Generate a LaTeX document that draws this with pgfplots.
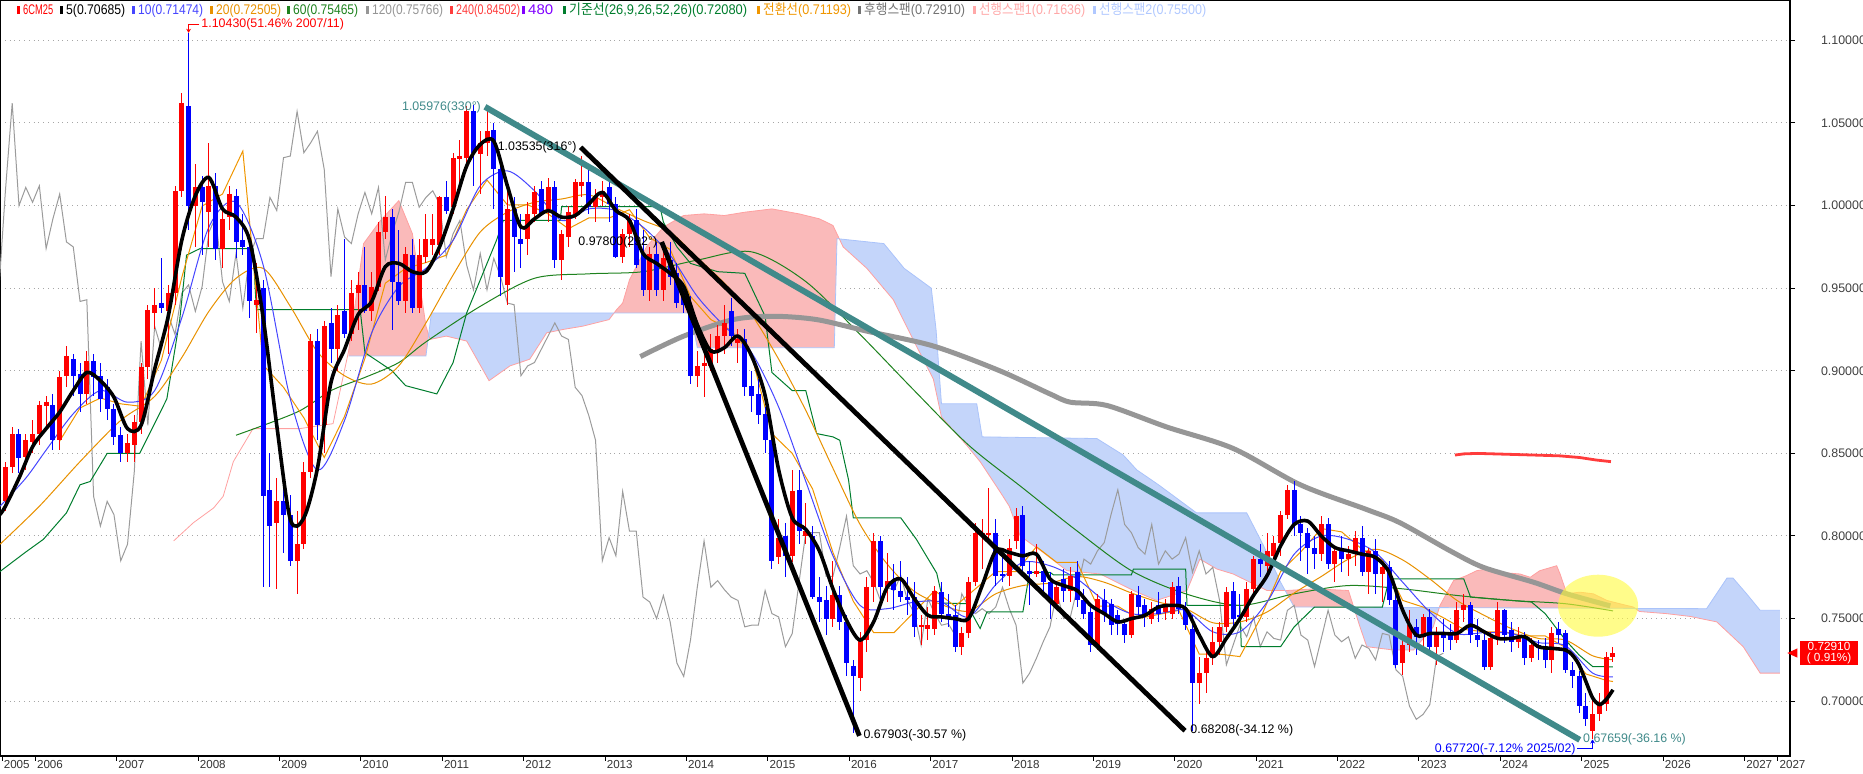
\documentclass[border=0pt]{standalone}
\usepackage{pgfplots}
\pgfplotsset{compat=1.18}
\usepackage{pgfplotstable}
\usepgfplotslibrary{fillbetween}
\usetikzlibrary{arrows.meta}
\usepackage{fontspec}
\setmainfont{Liberation Sans}
\newfontfamily\kr{Noto Sans CJK KR}

\definecolor{cup}{RGB}{255,0,0}
\definecolor{cdn}{RGB}{0,0,255}
\definecolor{trend}{RGB}{64,138,138}
\definecolor{maten}{RGB}{70,70,255}
\definecolor{matwenty}{RGB}{232,145,0}
\definecolor{masixty}{RGB}{30,130,30}
\definecolor{mahund}{RGB}{150,150,150}
\definecolor{matwoforty}{RGB}{255,60,60}
\definecolor{kijun}{RGB}{0,125,45}
\definecolor{tenkan}{RGB}{240,150,0}
\definecolor{lagspan}{RGB}{155,155,155}
\definecolor{spana}{RGB}{255,160,160}
\definecolor{spanb}{RGB}{170,195,250}
\definecolor{cloudp}{RGB}{250,186,186}
\definecolor{cloudb}{RGB}{196,213,250}
\definecolor{purp}{RGB}{128,0,255}
\definecolor{lblue}{RGB}{176,200,255}
\definecolor{lpink}{RGB}{255,168,168}

% monthly candles, m = months since Jan 2005
\pgfplotstableread{
m o h l c
7 0.821 0.845 0.815 0.842
8 0.842 0.866 0.838 0.862
9 0.862 0.865 0.838 0.847
10 0.848 0.862 0.840 0.858
11 0.857 0.870 0.850 0.862
12 0.862 0.882 0.855 0.879
13 0.879 0.885 0.865 0.881
14 0.879 0.886 0.852 0.858
15 0.858 0.900 0.852 0.896
16 0.897 0.915 0.890 0.909
17 0.907 0.910 0.885 0.897
18 0.898 0.905 0.875 0.886
19 0.886 0.912 0.880 0.906
20 0.906 0.910 0.885 0.896
21 0.897 0.905 0.875 0.883
22 0.890 0.895 0.870 0.877
23 0.877 0.880 0.855 0.860
24 0.861 0.866 0.845 0.850
25 0.850 0.862 0.845 0.856
26 0.855 0.873 0.845 0.869
27 0.869 0.905 0.862 0.902
28 0.902 0.940 0.895 0.937
29 0.935 0.950 0.925 0.940
30 0.941 0.968 0.935 0.938
31 0.936 0.952 0.910 0.947
32 0.947 1.012 0.940 1.009
33 1.009 1.068 1.005 1.062
34 1.060 1.1043 0.985 1.000
35 1.000 1.025 0.975 1.011
36 1.011 1.018 0.970 1.002
37 0.996 1.038 0.975 1.012
38 1.012 1.020 0.967 0.974
39 0.974 0.998 0.962 0.992
40 0.993 1.012 0.985 1.007
41 1.006 1.010 0.968 0.978
42 0.979 0.995 0.970 0.975
43 0.975 0.978 0.932 0.942
44 0.940 0.965 0.923 0.943
45 0.950 0.955 0.769 0.824
46 0.828 0.850 0.769 0.806
47 0.808 0.835 0.768 0.821
48 0.821 0.840 0.790 0.813
49 0.813 0.825 0.782 0.785
50 0.785 0.815 0.765 0.795
51 0.795 0.845 0.792 0.839
52 0.839 0.922 0.835 0.918
53 0.918 0.925 0.858 0.867
54 0.867 0.930 0.850 0.927
55 0.929 0.938 0.905 0.913
56 0.913 0.940 0.900 0.934
57 0.936 0.980 0.920 0.922
58 0.922 0.955 0.918 0.947
59 0.947 0.960 0.925 0.952
60 0.952 0.975 0.935 0.936
61 0.936 0.960 0.930 0.951
62 0.951 0.990 0.948 0.984
63 0.984 1.006 0.980 0.993
64 0.993 0.998 0.925 0.954
65 0.954 0.985 0.940 0.942
66 0.942 0.975 0.935 0.971
67 0.970 0.980 0.935 0.938
68 0.938 0.980 0.935 0.970
69 0.969 0.995 0.965 0.980
70 0.976 0.995 0.970 0.980
71 0.976 1.006 0.970 1.005
72 1.005 1.015 0.995 0.997
73 0.999 1.032 0.995 1.029
74 1.028 1.040 1.012 1.030
75 1.029 1.060 1.022 1.057
76 1.057 1.061 1.012 1.032
77 1.031 1.045 1.007 1.038
78 1.038 1.058 1.030 1.045
79 1.046 1.050 0.998 1.022
80 1.022 1.028 0.945 0.957
81 0.952 1.010 0.940 0.998
82 0.998 1.005 0.960 0.981
83 0.980 0.995 0.962 0.977
84 0.980 1.002 0.970 0.995
85 0.995 1.012 0.990 1.008
86 1.010 1.015 0.995 0.995
87 0.998 1.017 0.990 1.011
88 1.011 1.015 0.962 0.967
89 0.967 0.985 0.955 0.983
90 0.981 1.000 0.975 0.996
91 0.995 1.016 0.992 1.014
92 1.012 1.030 1.005 1.014
93 1.014 1.025 0.995 0.999
94 0.999 1.010 0.990 1.005
95 1.005 1.015 1.000 1.009
96 1.011 1.019 0.990 1.001
97 1.001 1.005 0.968 0.969
98 0.969 0.986 0.965 0.983
99 0.983 0.995 0.975 0.991
100 0.991 0.998 0.962 0.964
101 0.971 0.985 0.945 0.949
102 0.949 0.975 0.942 0.971
103 0.971 0.978 0.945 0.949
104 0.949 0.975 0.942 0.968
105 0.967 0.978 0.952 0.957
106 0.959 0.965 0.938 0.941
107 0.949 0.952 0.935 0.940
108 0.935 0.945 0.892 0.897
109 0.897 0.912 0.890 0.903
110 0.903 0.915 0.884 0.905
111 0.903 0.922 0.900 0.913
112 0.912 0.928 0.905 0.921
113 0.921 0.940 0.910 0.929
114 0.936 0.944 0.915 0.921
115 0.917 0.925 0.905 0.919
116 0.919 0.925 0.885 0.890
117 0.891 0.900 0.875 0.885
118 0.886 0.895 0.868 0.873
119 0.874 0.878 0.850 0.858
120 0.858 0.862 0.780 0.785
121 0.787 0.810 0.783 0.799
122 0.800 0.808 0.775 0.788
123 0.788 0.840 0.784 0.827
124 0.828 0.840 0.795 0.803
125 0.800 0.820 0.795 0.803
126 0.800 0.806 0.762 0.763
127 0.763 0.775 0.748 0.760
128 0.761 0.770 0.740 0.750
129 0.750 0.785 0.745 0.764
130 0.764 0.770 0.743 0.748
131 0.748 0.752 0.715 0.723
132 0.7215 0.725 0.681 0.715
133 0.714 0.742 0.706 0.737
134 0.737 0.775 0.730 0.769
135 0.769 0.802 0.760 0.797
136 0.797 0.800 0.757 0.769
137 0.769 0.790 0.760 0.773
138 0.773 0.783 0.755 0.7675
139 0.767 0.785 0.760 0.763
140 0.763 0.775 0.752 0.761
141 0.763 0.772 0.739 0.745
142 0.745 0.752 0.734 0.746
143 0.744 0.757 0.737 0.746
144 0.744 0.770 0.740 0.767
145 0.766 0.772 0.748 0.753
146 0.753 0.765 0.745 0.751
147 0.752 0.758 0.730 0.733
148 0.733 0.745 0.728 0.741
149 0.741 0.775 0.738 0.772
150 0.772 0.808 0.770 0.802
151 0.801 0.810 0.780 0.802
152 0.801 0.829 0.795 0.802
153 0.802 0.810 0.770 0.7755
154 0.777 0.790 0.772 0.7755
155 0.7755 0.798 0.770 0.793
156 0.797 0.817 0.792 0.812
157 0.813 0.818 0.775 0.782
158 0.779 0.785 0.758 0.777
159 0.777 0.795 0.775 0.779
160 0.779 0.785 0.765 0.772
161 0.772 0.778 0.750 0.761
162 0.759 0.773 0.755 0.769
163 0.774 0.780 0.760 0.767
164 0.767 0.781 0.760 0.776
165 0.778 0.785 0.757 0.761
166 0.761 0.768 0.750 0.753
167 0.754 0.757 0.730 0.734
168 0.734 0.765 0.731 0.762
169 0.761 0.768 0.748 0.753
170 0.759 0.762 0.740 0.746
171 0.752 0.755 0.740 0.747
172 0.747 0.750 0.735 0.740
173 0.740 0.767 0.738 0.765
174 0.764 0.770 0.752 0.757
175 0.758 0.762 0.745 0.753
176 0.750 0.760 0.747 0.756
177 0.758 0.766 0.748 0.753
178 0.754 0.762 0.749 0.757
179 0.753 0.772 0.750 0.769
180 0.770 0.775 0.753 0.756
181 0.756 0.760 0.743 0.746
182 0.744 0.752 0.682 0.711
183 0.711 0.727 0.698 0.717
184 0.717 0.732 0.705 0.726
185 0.726 0.745 0.722 0.736
186 0.736 0.748 0.728 0.745
187 0.745 0.769 0.742 0.766
188 0.767 0.772 0.745 0.750
189 0.752 0.765 0.748 0.751
190 0.751 0.772 0.748 0.768
191 0.768 0.788 0.765 0.786
192 0.786 0.795 0.775 0.783
193 0.782 0.802 0.776 0.791
194 0.788 0.800 0.782 0.796
195 0.796 0.815 0.788 0.813
196 0.813 0.831 0.810 0.828
197 0.828 0.833 0.800 0.807
198 0.807 0.812 0.785 0.802
199 0.802 0.805 0.777 0.793
200 0.793 0.800 0.780 0.789
201 0.789 0.812 0.785 0.807
202 0.807 0.811 0.780 0.783
203 0.783 0.793 0.772 0.791
204 0.791 0.800 0.778 0.786
205 0.786 0.794 0.776 0.789
206 0.790 0.803 0.782 0.799
207 0.799 0.806 0.776 0.778
208 0.778 0.793 0.765 0.791
209 0.791 0.798 0.765 0.777
210 0.777 0.785 0.760 0.781
211 0.781 0.785 0.758 0.761
212 0.761 0.765 0.720 0.722
213 0.723 0.740 0.716 0.734
214 0.734 0.755 0.730 0.746
215 0.745 0.750 0.728 0.739
216 0.739 0.753 0.733 0.751
217 0.751 0.756 0.731 0.733
218 0.733 0.745 0.722 0.742
219 0.741 0.750 0.730 0.738
220 0.741 0.747 0.731 0.737
221 0.737 0.760 0.735 0.755
222 0.755 0.765 0.748 0.758
223 0.758 0.760 0.735 0.740
224 0.740 0.750 0.733 0.737
225 0.737 0.742 0.719 0.721
226 0.721 0.742 0.719 0.738
227 0.738 0.760 0.734 0.755
228 0.755 0.756 0.735 0.740
229 0.743 0.748 0.730 0.736
230 0.736 0.745 0.732 0.739
231 0.739 0.742 0.722 0.726
232 0.726 0.738 0.724 0.734
233 0.734 0.737 0.725 0.732
234 0.732 0.738 0.720 0.725
235 0.725 0.745 0.717 0.741
236 0.744 0.748 0.735 0.740
237 0.741 0.743 0.717 0.719
238 0.719 0.724 0.708 0.715
239 0.715 0.718 0.693 0.697
240 0.697 0.705 0.685 0.689
241 0.682 0.703 0.6772 0.692
242 0.692 0.705 0.688 0.698
243 0.698 0.730 0.694 0.727
244 0.727 0.733 0.724 0.7291
}\candles

% legend entry: x position (px of 1790), colour, text width (pt), text
\newcommand{\lgitem}[4]{\node[anchor=base west, inner sep=0pt, text=#2, font=\fontsize{7}{8}\selectfont] at (axis description cs:#1/1790,0.9812) {\rule{1.1pt}{3.9pt}\hspace{1.8pt}\resizebox{#3pt}{\height}{#4}};}

\begin{document}
\begin{tikzpicture}[font=\fontsize{6.2}{7}\selectfont]
\begin{axis}[
  at={(0,0)}, anchor=south west,
  scale only axis, width=895pt, height=378pt,
  xmin=6.2, xmax=270.1, ymin=0.66683, ymax=1.12446,
  set layers, clip mode=individual,
  axis line style={line width=0.6pt},
  xtick={6.5,11.4,23.4,35.4,47.4,59.4,71.4,83.4,95.4,107.4,119.4,131.4,143.4,155.4,167.4,179.4,191.4,203.4,215.4,227.4,239.4,251.4,263.4,268.3},
  xticklabels={2005,2006,2007,2008,2009,2010,2011,2012,2013,2014,2015,2016,2017,2018,2019,2020,2021,2022,2023,2024,2025,2026,2027,2027},
  xtick pos=left, ytick pos=right, yticklabel pos=right,
  tick align=outside, major tick length=2.5pt,
  tick style={black, line width=0.5pt},
  tick label style={font=\fontsize{6.2}{7}\selectfont},
  xticklabel style={anchor=north west, xshift=0.2pt, yshift=1.2pt, inner sep=0.5pt, text=black!80, font=\fontsize{5.8}{7}\selectfont},
  ytick={0.70,0.75,0.80,0.85,0.90,0.95,1.00,1.05,1.10},
  yticklabel={\pgfmathprintnumber[fixed,fixed zerofill,precision=5]{\tick}},
  yticklabel style={anchor=west, xshift=9.5pt, text=black!75},
  /pgf/number format/assume math mode=true,
  ymajorgrids, grid style={black!35, dotted, line width=0.5pt},
]

% ichimoku cloud
\addplot[spana, line width=0.4pt] coordinates {(31.8,0.797) (34.7,0.808) (37.7,0.817) (39.1,0.824) (40.6,0.845) (43.5,0.865) (50.4,0.865) (55.3,0.868) (57.6,0.912)};
\addplot[name path=sa, spana, line width=0.4pt] coordinates {
(57.6,0.912) (59.8,0.977) (62.3,0.991) (65,1.003) (67,0.983) (69,0.927) (69.6,0.919) (72,0.921) (75,0.918) (78.3,0.894) (81.4,0.903) (84.3,0.907) (86.8,0.923) (89.2,0.925) (92.1,0.927) (96,0.931) (97.1,0.937) (98,0.941) (99,0.955) (101.5,0.975) (104,0.987) (107,0.994) (110,0.995) (113,0.994) (116,0.996) (120,0.998) (124,0.995) (127,0.992) (129,0.988) (130.5,0.975) (134,0.962) (137.9,0.943) (141.3,0.915) (143.8,0.895) (145,0.872) (148.7,0.855) (150.7,0.845) (153.6,0.827) (155,0.818) (156.6,0.800) (160,0.790) (163.5,0.779) (168.4,0.777) (173.3,0.767) (176.7,0.761) (181.2,0.767) (183.1,0.786) (185.6,0.780) (188,0.777) (193,0.767) (195.9,0.767) (200,0.768) (205,0.767) (206.7,0.745) (207.7,0.733) (211.6,0.731) (214.6,0.731) (217.5,0.745) (218.5,0.758) (220.5,0.773) (222.4,0.776) (223.9,0.779) (225.4,0.780) (227.3,0.778) (230.3,0.777) (231.8,0.775) (233.2,0.779) (235.7,0.782) (236.2,0.777) (237.2,0.765) (239.1,0.766) (241.1,0.765) (243.1,0.761) (245,0.759) (247,0.757) (247.9,0.7543) (251.9,0.753) (255.4,0.7513) (259.3,0.748) (263.2,0.733) (265.7,0.717) (268.6,0.717)};
\addplot[name path=sb, spanb, line width=0.4pt] coordinates {
(57.6,0.909) (69,0.909) (69.8,0.935) (108,0.935) (109,0.914) (129.2,0.914) (129.6,0.980) (136.5,0.977) (139.5,0.962) (143.5,0.950) (144.2,0.925) (145,0.880) (150.2,0.880) (151,0.860) (167.9,0.859) (171.8,0.849) (173.8,0.840) (177,0.831) (182.6,0.814) (190,0.814) (192.5,0.794) (195,0.772) (197,0.757) (257.8,0.756) (260.8,0.7745) (261.7,0.7745) (263.7,0.765) (265.7,0.755) (268.6,0.755)};
\addplot[fill=cloudp, draw=none] fill between[of=sa and sb, split,
  every even segment/.style={fill=cloudp}, every odd segment/.style={fill=cloudb}];

% lagging span: close shifted 25 months back
\addplot[lagspan, line width=0.5pt] table[x expr=\thisrow{m}-25, y=c] {\candles};

% kijun (26)
\addplot[kijun, line width=0.5pt] coordinates {(6.2,0.7785) (9.9,0.790) (12.6,0.798) (16,0.814) (18,0.831) (19.5,0.833) (22,0.850) (26.8,0.850) (30.8,0.883) (32.7,0.931) (33.7,0.970) (35.7,0.974) (43.5,0.974) (44,0.937) (59.3,0.937) (60,0.911) (64,0.900) (66,0.891) (70.6,0.886) (73,0.905) (75,0.935) (77,0.955) (79.4,0.979) (80.4,0.991) (88.8,0.991) (89,0.9994) (103.5,0.9994) (104,0.990) (106,0.975) (108,0.965) (112,0.960) (116,0.959) (119,0.933) (120,0.899) (123,0.888) (125,0.888) (126.6,0.862) (129,0.860) (130,0.858) (131.3,0.834) (132,0.811) (139,0.811) (141.3,0.798) (144.3,0.7775) (145.3,0.7594) (148.7,0.759) (150.7,0.744) (151.7,0.754) (157,0.754) (158,0.778) (161,0.778) (161.5,0.7765) (173,0.7765) (173.3,0.780) (181,0.780) (181.2,0.758) (189,0.758) (189.2,0.733) (195,0.733) (197,0.745) (200,0.757) (210,0.757) (211,0.774) (222,0.774) (223,0.763) (232,0.760) (234,0.753) (237,0.737) (239,0.728) (241,0.721) (244,0.7208)};
% 60 MA
\addplot[masixty, line width=0.5pt, smooth] coordinates {(41,0.861) (50,0.875) (55,0.888) (60,0.896) (65,0.905) (69,0.9175) (77,0.939) (85,0.956) (93,0.9587) (101,0.960) (109,0.967) (117,0.972) (125,0.954) (133,0.922) (141,0.888) (149,0.855) (157,0.829) (165,0.803) (173,0.779) (181,0.765) (189,0.758) (197,0.765) (205,0.770) (213,0.768) (221,0.764) (229,0.761) (237,0.759) (244,0.75465)};
% tenkan (9)
\addplot[tenkan, line width=0.5pt] coordinates {(15,0.8575) (18,0.8775) (21,0.8835) (24,0.880) (27,0.8785) (30,0.9065) (33,0.9565) (36,0.9997) (39,1.007) (42,1.033) (45,0.9035) (48,0.890) (51,0.8715) (54,0.8475) (57,0.8725) (60,0.9075) (63,0.953) (66,0.962) (69,0.9655) (72,0.970) (75,0.9975) (78,1.0155) (81,1.0005) (84,1.0005) (87,0.995) (90,0.986) (93,0.9925) (96,0.9925) (99,0.9975) (102,0.9805) (105,0.9735) (108,0.945) (111,0.931) (114,0.9245) (117,0.9095) (120,0.862) (123,0.850) (126,0.8285) (129,0.790) (132,0.7605) (135,0.7415) (138,0.7415) (141,0.754) (144,0.767) (147,0.7575) (150,0.768) (153,0.7785) (156,0.7785) (159,0.7935) (162,0.784) (165,0.784) (168,0.7575) (171,0.7575) (174,0.750) (177,0.7525) (180,0.755) (183,0.7285) (186,0.7285) (189,0.727) (192,0.750) (195,0.7785) (198,0.7905) (201,0.8045) (204,0.8025) (207,0.792) (210,0.7855) (213,0.761) (216,0.757) (219,0.7505) (222,0.7435) (225,0.742) (228,0.742) (231,0.7395) (234,0.7395) (237,0.7325) (240,0.7165) (243,0.7126) (244,0.7119)};
% 20 MA
\addplot[matwenty, line width=0.5pt, smooth] coordinates {(6.2,0.795) (12,0.818) (18,0.845) (24,0.870) (29,0.8845) (33,0.908) (37,0.936) (41,0.956) (45,0.962) (49,0.939) (53,0.9115) (57,0.897) (61,0.892) (65,0.903) (69,0.929) (73,0.958) (77,0.984) (81,0.996) (85,1.002) (89,1.004) (93,1.0065) (97,0.9985) (101,0.991) (105,0.984) (109,0.9685) (113,0.953) (117,0.934) (121,0.907) (125,0.876) (129,0.841) (133,0.807) (137,0.783) (141,0.7665) (145,0.7585) (149,0.7545) (153,0.765) (157,0.770) (161,0.7715) (165,0.7755) (169,0.772) (173,0.7655) (177,0.760) (181,0.756) (185,0.7475) (189,0.748) (193,0.754) (197,0.7655) (201,0.7755) (205,0.786) (209,0.792) (213,0.7855) (217,0.774) (221,0.761) (225,0.752) (229,0.744) (233,0.738) (237,0.737) (241,0.7275) (244,0.72505)};
% 10 MA
\addplot[maten, line width=0.5pt, smooth] coordinates {(6.2,0.818) (10,0.835) (13,0.852) (17,0.874) (21,0.888) (25,0.881) (29,0.888) (33,0.932) (37,0.987) (41,1.002) (45,0.964) (49,0.883) (53,0.840) (57,0.870) (61,0.923) (65,0.951) (69,0.962) (73,0.979) (77,1.012) (81,1.021) (85,1.009) (89,0.991) (93,0.998) (97,0.997) (101,0.987) (105,0.970) (109,0.945) (113,0.927) (117,0.911) (121,0.878) (125,0.833) (129,0.788) (133,0.758) (137,0.756) (141,0.760) (145,0.760) (149,0.751) (153,0.7705) (157,0.784) (161,0.782) (165,0.774) (169,0.761) (173,0.753) (177,0.753) (181,0.755) (185,0.742) (189,0.742) (193,0.760) (197,0.789) (201,0.800) (205,0.798) (209,0.790) (213,0.772) (217,0.754) (221,0.741) (225,0.7415) (229,0.741) (233,0.7355) (237,0.7335) (241,0.717) (244,0.7147)};
% 120 MA
\addplot[mahund, line width=2.5pt, smooth] coordinates {(100.6,0.9086) (107,0.921) (114.3,0.931) (120.2,0.933) (126.6,0.931) (134,0.924) (143.8,0.915) (153.6,0.900) (161,0.886) (164,0.881) (169.4,0.879) (178.2,0.866) (188,0.853) (197.9,0.831) (207.7,0.816) (212.6,0.808) (220,0.791) (224.9,0.781) (232.3,0.772) (237.2,0.765) (243.6,0.7577)};
% 240 MA
\addplot[matwoforty, line width=1.4pt] coordinates {(220.7,0.849) (222,0.8497) (224,0.8500) (232.3,0.8490) (236.2,0.8485) (239.1,0.8475) (241.5,0.846) (243.7,0.8450)};

% candles: wicks then bodies
\addplot[draw=none, mark=none, restrict expr to domain={\thisrow{c}-\thisrow{o}}{0:10},
  error bars/.cd, y dir=both, y explicit, error mark=none,
  error bar style={draw=cup, line width=0.5pt}]
  table[x=m, y expr=(\thisrow{h}+\thisrow{l})/2, y error expr=(\thisrow{h}-\thisrow{l})/2] {\candles};
\addplot[draw=none, mark=none, restrict expr to domain={\thisrow{c}-\thisrow{o}}{-10:-0.00001},
  error bars/.cd, y dir=both, y explicit, error mark=none,
  error bar style={draw=cdn, line width=0.5pt}]
  table[x=m, y expr=(\thisrow{h}+\thisrow{l})/2, y error expr=(\thisrow{h}-\thisrow{l})/2] {\candles};
\addplot[draw=none, mark=none, restrict expr to domain={\thisrow{c}-\thisrow{o}}{0:10},
  error bars/.cd, y dir=both, y explicit, error mark=none,
  error bar style={draw=cup, line width=2.5pt, line cap=butt}]
  table[x=m, y expr=(\thisrow{o}+\thisrow{c})/2, y error expr={max(abs(\thisrow{c}-\thisrow{o})/2,0.0004)}] {\candles};
\addplot[draw=none, mark=none, restrict expr to domain={\thisrow{c}-\thisrow{o}}{-10:-0.00001},
  error bars/.cd, y dir=both, y explicit, error mark=none,
  error bar style={draw=cdn, line width=2.5pt, line cap=butt}]
  table[x=m, y expr=(\thisrow{o}+\thisrow{c})/2, y error expr={max(abs(\thisrow{c}-\thisrow{o})/2,0.0004)}] {\candles};

% 5 MA
\addplot[black, line width=1.8pt, smooth] coordinates {(6.2,0.813) (7,0.818) (9,0.835) (11,0.854) (13,0.865) (15,0.875) (17,0.888) (19,0.899) (21,0.894) (23,0.884) (25,0.865) (27,0.867) (29,0.901) (31,0.933) (33,0.979) (35,1.006) (37,1.017) (39,0.998) (41,0.993) (43,0.979) (45,0.932) (47,0.867) (49,0.810) (51,0.811) (53,0.841) (55,0.893) (57,0.913) (59,0.934) (61,0.942) (63,0.963) (65,0.965) (67,0.960) (69,0.960) (71,0.975) (73,0.998) (75,1.024) (77,1.037) (79,1.039) (81,1.012) (83,0.987) (85,0.992) (87,0.997) (89,0.993) (91,0.994) (93,1.001) (95,1.008) (97,0.997) (99,0.991) (101,0.971) (103,0.965) (105,0.959) (107,0.951) (109,0.928) (111,0.912) (113,0.914) (115,0.921) (117,0.909) (119,0.885) (121,0.840) (123,0.811) (125,0.804) (127,0.791) (129,0.768) (131,0.749) (133,0.737) (135,0.748) (137,0.769) (139,0.774) (141,0.762) (143,0.752) (145,0.751) (147,0.750) (149,0.750) (151,0.770) (153,0.791) (155,0.790) (157,0.788) (159,0.789) (161,0.774) (163,0.770) (165,0.767) (167,0.758) (169,0.753) (171,0.748) (173,0.750) (175,0.752) (177,0.757) (179,0.758) (181,0.756) (183,0.740) (185,0.727) (187,0.738) (189,0.750) (191,0.764) (193,0.776) (195,0.794) (197,0.807) (199,0.809) (201,0.800) (203,0.793) (205,0.791) (207,0.789) (209,0.787) (211,0.778) (213,0.755) (215,0.740) (217,0.741) (219,0.741) (221,0.741) (223,0.746) (225,0.742) (227,0.738) (229,0.738) (231,0.739) (233,0.733) (235,0.732) (237,0.731) (238,0.728) (239,0.722) (240,0.712) (241,0.702) (242,0.698) (243,0.701) (244,0.7069)};

% trend lines
\addplot[trend, line width=3pt] coordinates {(77.7,1.0598) (239.1,0.6766)};
\addplot[black, line width=2.4pt] coordinates {(91.8,1.0353) (180.9,0.6821)};
\addplot[black, line width=2.4pt] coordinates {(103.75,0.9780) (132.9,0.6790)};

% highlight
\fill[fill={rgb,255:red,255;green,250;blue,60}, opacity=0.6] (axis cs:241.8,0.7578) ellipse [x radius=20pt, y radius=15.5pt];

% annotations
\node[anchor=east, inner sep=0.5pt, text=trend] at (axis cs:77.3,1.0597) {1.05976(330°)};
\node[anchor=east, inner sep=0.5pt] at (axis cs:91.4,1.0353) {1.03535(316°)};
\node[anchor=east, inner sep=0.5pt] at (axis cs:103.3,0.9780) {0.97800(292°)};
\node[anchor=west, inner sep=0.5pt] at (axis cs:133.3,0.6796) {0.67903(-30.57 \%)};
\node[anchor=west, inner sep=0.5pt] at (axis cs:181.5,0.6822) {0.68208(-34.12 \%)};
\node[anchor=west, inner sep=0.5pt, text=trend] at (axis cs:239.4,0.6771) {0.67659(-36.16 \%)};
\node[anchor=east, inner sep=0.5pt, text=cdn] at (axis cs:238.7,0.6711) {0.67720(-7.12\% 2025/02)};
\draw[cdn, line width=0.5pt, -{Stealth[length=2pt,width=2.4pt]}] (axis cs:238.75,0.6711) -- (axis cs:241,0.6711) -- (axis cs:241,0.6768);
\node[anchor=west, inner sep=0.5pt, text=cup] at (axis cs:35.7,1.1099) {1.10430(51.46\% 2007/11)};
\draw[cup, line width=0.5pt, -{Stealth[length=2pt,width=2.4pt]}] (axis cs:35.6,1.1099) -- (axis cs:34,1.1099) -- (axis cs:34,1.1046);

% price tag on the right
\fill[cup] (axis description cs:0.9985,0.1362) -- ++(5pt,2.3pt) -- ++(0pt,-4.6pt) -- cycle;
\node[fill=cup, text=white, inner xsep=1pt, inner ysep=0.6pt, minimum width=29pt, align=center, font=\fontsize{5.9}{5.6}\selectfont] at (axis description cs:1.0218,0.1362) {0.72910\\(~0.91\%)};

% legend row
\lgitem{17}{cup}{15}{6CM25}
\lgitem{60}{black}{29.5}{5(0.70685)}
\lgitem{132}{maten}{32.5}{10(0.71474)}
\lgitem{210}{matwenty}{32.5}{20(0.72505)}
\lgitem{287}{masixty}{32.5}{60(0.75465)}
\lgitem{366}{mahund}{35.5}{120(0.75766)}
\lgitem{450}{matwoforty}{32}{240(0.84502)}
\lgitem{522}{purp}{12.5}{480}
\lgitem{563}{kijun}{89}{{\kr 기준선}(26,9,26,52,26)(0.72080)}
\lgitem{757}{tenkan}{44}{{\kr 전환선}(0.71193)}
\lgitem{858}{black!55}{50.5}{{\kr 후행스팬}(0.72910)}
\lgitem{973}{lpink}{53}{{\kr 선행스팬}1(0.71636)}
\lgitem{1093}{lblue}{53.5}{{\kr 선행스팬}2(0.75500)}
\end{axis}
\pgfresetboundingbox
\path (0,-9pt) rectangle (931.5pt,378pt);
\end{tikzpicture}
\end{document}
